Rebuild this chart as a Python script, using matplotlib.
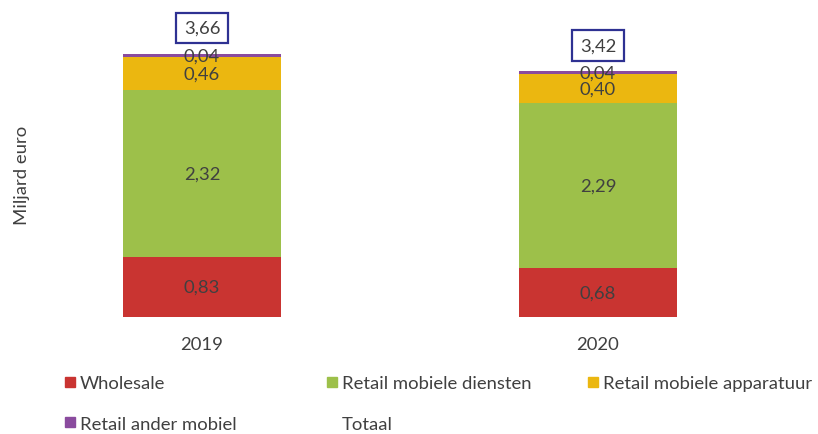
import matplotlib
matplotlib.use("Agg")
import matplotlib.pyplot as plt
from matplotlib.lines import Line2D
import numpy as np

plt.rcParams['font.family'] = ['Lato', 'DejaVu Sans']

years = ["2019", "2020"]
wholesale = [0.83, 0.68]
retail_diensten = [2.32, 2.29]
retail_apparatuur = [0.46, 0.40]
retail_ander = [0.04, 0.04]
totaal = [3.66, 3.42]

series_names = ["Wholesale", "Retail mobiele diensten", "Retail mobiele apparatuur", "Retail ander mobiel"]
series_values = [wholesale, retail_diensten, retail_apparatuur, retail_ander]
colors = ["#C93431", "#9DC04A", "#EBB710", "#8A4B9E"]
label_color = "#404040"
fs = 13.3

fig = plt.figure(figsize=(8.18, 4.35), dpi=100)
ax = fig.add_axes([60/818, 117/435, 737/818, 308/435])

x = np.arange(len(years))
bottom = np.zeros(len(years))
for name, vals, c in zip(series_names, series_values, colors):
    vals = np.array(vals)
    ax.bar(x, vals, width=0.4, bottom=bottom, color=c, label=name)
    for xi, b, v in zip(x, bottom, vals):
        ax.text(xi, b + v/2, f"{v:.2f}".replace(".", ","), ha="center", va="center",
                fontsize=fs, color=label_color)
    bottom += vals

for xi, t in zip(x, totaal):
    ax.annotate(f"{t:.2f}".replace(".", ","), xy=(xi, t), xytext=(0, 18),
                textcoords="offset points", ha="center", va="center",
                fontsize=fs, color=label_color,
                bbox=dict(boxstyle="square,pad=0.4", fc="white", ec="#2E3192", lw=1.6))

ax.set_xlim(-0.3586, 1.5025)
ax.set_ylim(0, 4.27)
ax.set_xticks(x)
ax.set_xticklabels(years, fontsize=fs, color=label_color)
ax.tick_params(axis="x", length=0, pad=14)
ax.set_yticks([])
for s in ax.spines.values():
    s.set_visible(False)

fig.text(22/818, 1 - 175/435, "Miljard euro", rotation=90, ha="center", va="center",
         fontsize=fs, color=label_color)

def handle(c):
    return Line2D([], [], marker="s", linestyle="none", markersize=6.5, color=c)

cols = [
    ([handle(colors[0]), handle(colors[3])], ["Wholesale", "Retail ander mobiel"], 65),
    ([handle(colors[1]), Line2D([], [], linestyle="none")], ["Retail mobiele diensten", "Totaal"], 327),
    ([handle(colors[2])], ["Retail mobiele apparatuur"], 588),
]
for hs, ls, px in cols:
    fig.legend(hs, ls, loc="upper left", bbox_to_anchor=(px/818, 1 - 376/435),
               frameon=False, fontsize=fs, labelcolor=label_color,
               handlelength=0.5, handletextpad=0.3, labelspacing=1.35,
               borderpad=0, borderaxespad=0)

fig.savefig("out.png", dpi=100)
